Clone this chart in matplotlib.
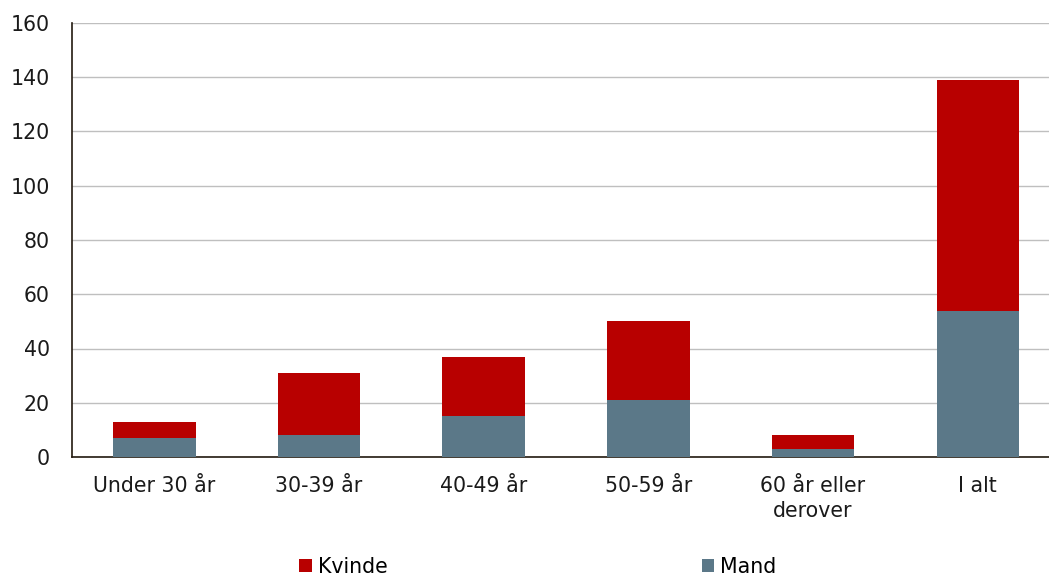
import matplotlib
matplotlib.use("Agg")
import matplotlib.pyplot as plt
from matplotlib.patches import Patch

categories = ["Under 30 år", "30-39 år", "40-49 år", "50-59 år", "60 år eller\nderover", "I alt"]
mand = [7, 8, 15, 21, 3, 54]
kvinde = [6, 23, 22, 29, 5, 85]
yticks = [0, 20, 40, 60, 80, 100, 120, 140, 160]

red = "#B80000"
blue = "#5B7888"
fs = 14.8

plt.rcParams['font.family'] = ['DejaVu Sans']
fig = plt.figure(figsize=(10.49, 5.78), dpi=100)
ax = fig.add_axes([72/1049, 1 - 457/578, 988/1049, (457-23)/578])

x = range(len(categories))
ax.bar(x, mand, width=0.5, color=blue, zorder=3, linewidth=0)
ax.bar(x, kvinde, bottom=mand, width=0.5, color=red, zorder=3, linewidth=0)

ax.set_xlim(-0.5, len(categories) - 0.5)
ax.set_ylim(0, 160)
ax.set_yticks(yticks)
ax.set_yticklabels([str(v) for v in yticks], fontsize=fs, color="#1a1a1a")
ax.set_xticks(list(x))
ax.set_xticklabels(categories, fontsize=fs, color="#1a1a1a", linespacing=1.3)
ax.tick_params(axis='x', length=0, pad=14)
ax.tick_params(axis='y', length=0, pad=16)
ax.yaxis.grid(True, color="#BFBFBF", linewidth=1, zorder=0)
ax.set_axisbelow(True)
for s in ["top", "right"]:
    ax.spines[s].set_visible(False)
ax.spines["left"].set_color("#231a0f")
ax.spines["bottom"].set_color("#231a0f")
ax.spines["left"].set_linewidth(1.2)
ax.spines["bottom"].set_linewidth(1.2)

handles = [Patch(facecolor=red, label="Kvinde"), Patch(facecolor=blue, label="Mand")]
fig.legend(handles=handles, loc="center", bbox_to_anchor=(538/1049, 1 - 567/578), ncol=2,
           frameon=False, fontsize=fs, handlelength=0.6, handleheight=0.6,
           handletextpad=0.3, columnspacing=15.3)

fig.savefig("out.png", dpi=100)
